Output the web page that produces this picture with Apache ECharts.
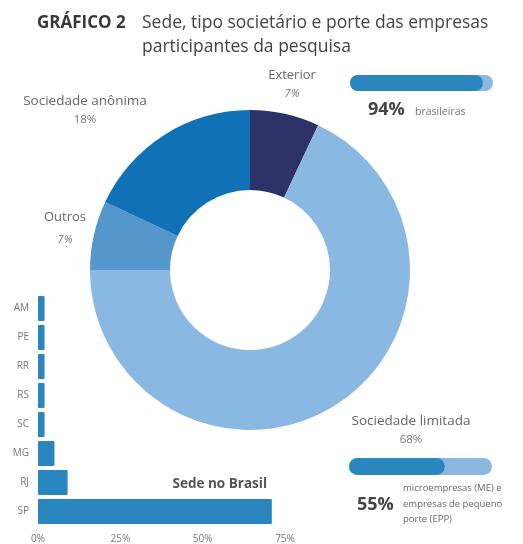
<!DOCTYPE html>
<html>
<head>
<meta charset="utf-8">
<script src="https://cdn.jsdelivr.net/npm/echarts@6/dist/echarts.min.js"></script>
<style>
html,body{margin:0;padding:0;background:#fff;}
#c{width:523px;height:544px;}
</style>
</head>
<body>
<div id="c"></div>
<script>
// Donut: tipo societário / sede
const pieNames = ['Exterior', 'Sociedade limitada', 'Outros', 'Sociedade anônima'];
const pieValues = [7, 68, 7, 18];
const pieColors = ['#2e3168', '#89b9e2', '#5596cd', '#1171b6'];

// Sede no Brasil (bar)
const stateNames = ['AM', 'PE', 'RR', 'RS', 'SC', 'MG', 'RJ', 'SP'];
const stateValues = [2, 2, 2, 2, 2, 5, 9, 71];
const xTicks = [0, 25, 50, 75];

// Progress bars (fill as drawn) and their captions
const progressLabels = ['94%', '55%'];
const progressFill = [93, 67];

const FONT = '"Open Sans", Lato, sans-serif';
const chart = echarts.init(document.getElementById('c'));

function ctxt(cx, cy, text, size, opts) {
  return {
    type: 'text', x: cx, y: cy,
    style: Object.assign({
      text: text, fontFamily: FONT, fontSize: size, fill: '#666',
      align: 'center', verticalAlign: 'middle'
    }, opts || {})
  };
}
function ltxt(x, y, text, size, opts) {
  return {
    type: 'text', x: x, y: y,
    style: Object.assign({
      text: text, fontFamily: FONT, fontSize: size, fill: '#666',
      align: 'left', verticalAlign: 'middle'
    }, opts || {})
  };
}

const graphics = [
  ltxt(37, 23, 'GRÁFICO 2', 17, {fontWeight: 'bold', fill: '#383838'}),
  ltxt(142, 35, 'Sede, tipo societário e porte das empresas\nparticipantes da pesquisa', 17.5, {lineHeight: 24, fill: '#444'}),
  // pie labels
  ctxt(292, 75, pieNames[0], 13),
  ctxt(292, 94, pieValues[0] + '%', 11, {fontStyle: 'italic', fill: '#777'}),
  ctxt(411, 421, pieNames[1], 13.5),
  ctxt(411, 440, pieValues[1] + '%', 11.5, {fill: '#777'}),
  ctxt(65, 217, pieNames[2], 13),
  ctxt(65, 240, pieValues[2] + '%', 11, {fontStyle: 'italic', fill: '#777'}),
  ctxt(85, 101, pieNames[3], 13.5),
  ctxt(85, 120, pieValues[3] + '%', 11.5, {fill: '#777'}),
  // progress captions
  ltxt(368, 110, progressLabels[0], 18, {fontWeight: 'bold', fill: '#444'}),
  ltxt(415, 112, 'brasileiras', 10.5, {fill: '#777'}),
  ltxt(357, 505, progressLabels[1], 18, {fontWeight: 'bold', fill: '#444'}),
  ltxt(403, 504, 'microempresas (ME) e\nempresas de pequeno\nporte (EPP)', 9.5, {lineHeight: 15.5}),
  // bar chart title
  {type: 'text', x: 267, y: 484, style: {text: 'Sede no Brasil', fontFamily: FONT, fontSize: 13.5, fontWeight: 'bold', fill: '#555', align: 'right', verticalAlign: 'middle'}}
];

const option = {
  animation: false,
  backgroundColor: '#fff',
  textStyle: {fontFamily: FONT},
  grid: [
    {left: 38, top: 294, width: 247, height: 233},
    {left: 350, top: 75, width: 143, height: 16},
    {left: 349, top: 458, width: 143, height: 17}
  ],
  xAxis: [
    {gridIndex: 0, type: 'value', min: xTicks[0], max: xTicks[xTicks.length - 1], interval: 25,
     axisLine: {show: false}, axisTick: {show: false}, splitLine: {show: false},
     axisLabel: {formatter: '{value}%', color: '#777', fontSize: 10, margin: 8}},
    {gridIndex: 1, type: 'value', min: 0, max: 100, show: false},
    {gridIndex: 2, type: 'value', min: 0, max: 100, show: false}
  ],
  yAxis: [
    {gridIndex: 0, type: 'category', data: stateNames, inverse: true,
     axisLine: {show: false}, axisTick: {show: false},
     axisLabel: {color: '#777', fontSize: 10, margin: 9}},
    {gridIndex: 1, type: 'category', data: ['a'], show: false},
    {gridIndex: 2, type: 'category', data: ['b'], show: false}
  ],
  series: [
    {type: 'bar', xAxisIndex: 0, yAxisIndex: 0, data: stateValues, barWidth: 25,
     itemStyle: {color: '#2a86bf', borderRadius: 1}},
    {type: 'bar', xAxisIndex: 1, yAxisIndex: 1, data: [100], barWidth: 16, barGap: '-100%',
     itemStyle: {color: '#8ab8e0', borderRadius: 8}},
    {type: 'bar', xAxisIndex: 1, yAxisIndex: 1, data: [progressFill[0]], barWidth: 16, barGap: '-100%',
     itemStyle: {color: '#2a86bf', borderRadius: 8}},
    {type: 'bar', xAxisIndex: 2, yAxisIndex: 2, data: [100], barWidth: 17, barGap: '-100%',
     itemStyle: {color: '#8ab8e0', borderRadius: 8.5}},
    {type: 'bar', xAxisIndex: 2, yAxisIndex: 2, data: [progressFill[1]], barWidth: 17, barGap: '-100%',
     itemStyle: {color: '#2a86bf', borderRadius: 8.5}},
    {type: 'pie', center: [250, 270], radius: [80, 160], startAngle: 90, clockwise: true,
     label: {show: false}, labelLine: {show: false}, silent: true,
     data: pieNames.map((n, i) => ({name: n, value: pieValues[i], itemStyle: {color: pieColors[i]}}))}
  ],
  graphic: graphics
};
chart.setOption(option);
</script>
</body>
</html>
